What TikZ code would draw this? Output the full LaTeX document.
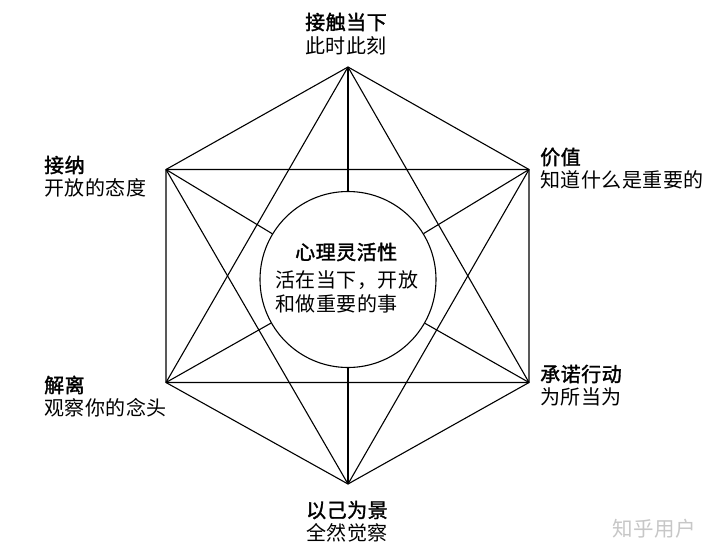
\documentclass[tikz,border=0pt]{standalone}
\usepackage{fontspec}
\newfontfamily\cjk[LetterSpace=2.5]{Noto Sans CJK SC}
\newfontfamily\cjkhead[FakeBold=1.6,LetterSpace=2.5]{Noto Sans CJK SC}
\begin{document}
\begin{tikzpicture}[x=1pt,y=-1pt,
  edge/.style={line width=1.1pt,black},
  head/.style={font=\cjkhead\fontsize{20}{22}\selectfont,inner sep=0pt},
  sub/.style={font=\cjk\fontsize{20}{22}\selectfont,inner sep=0pt},
  wmark/.style={font=\cjk\fontsize{20.5}{22}\selectfont,inner sep=0pt,text=black!22}]
\useasboundingbox[fill=white] (0,0) rectangle (720,555);
% vertices
\coordinate (T) at (348,67);
\coordinate (UL) at (166,169.5);
\coordinate (UR) at (529,169.5);
\coordinate (LL) at (166,382.5);
\coordinate (LR) at (529,382.5);
\coordinate (B) at (348,484);
% center circle
\node[draw,edge,circle,minimum size=176pt,inner sep=0pt] (c) at (348,279.5) {};
% hexagon
\draw[edge,line join=round] (T) -- (UR) -- (LR) -- (B) -- (LL) -- (UL) -- cycle;
% triangles
\draw[edge,line join=round] (T) -- (LR) -- (LL) -- cycle;
\draw[edge,line join=round] (B) -- (UR) -- (UL) -- cycle;
% spokes
\foreach \v in {T,UR,LR,B,LL,UL} \draw[edge] (\v) -- (c);
% labels
\node[head,anchor=west] (t1) at (305,22) {接触当下};
\node[sub,anchor=west] (t2) at (305,46) {此时此刻};
\node[head,anchor=west] (ul1) at (44,165) {接纳};
\node[sub,anchor=west] (ul2) at (44,188) {开放的态度};
\node[head,anchor=west] (ur1) at (540,157) {价值};
\node[sub,anchor=west] (ur2) at (540,180) {知道什么是重要的};
\node[head,anchor=west] (ll1) at (44,385) {解离};
\node[sub,anchor=west] (ll2) at (44,408) {观察你的念头};
\node[head,anchor=west] (lr1) at (540,374) {承诺行动};
\node[sub,anchor=west] (lr2) at (540,397) {为所当为};
\node[head,anchor=west] (b1) at (306,510) {以己为景};
\node[sub,anchor=west] (b2) at (306,533) {全然觉察};
% center text
\node[head,anchor=west] (c1) at (295,252) {心理灵活性};
\node[sub,anchor=west] (c2) at (275,280) {活在当下，开放};
\node[sub,anchor=west] (c3) at (275,304) {和做重要的事};
% watermark
\node[wmark,anchor=west] (wm) at (612,529) {知乎用户};
\end{tikzpicture}
\end{document}
